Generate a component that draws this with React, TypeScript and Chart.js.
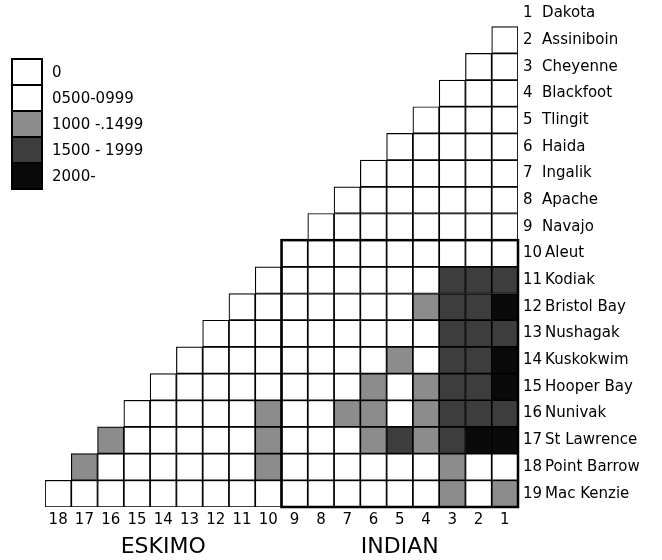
import React, { useEffect, useRef } from 'react';
import { Chart, registerables } from 'chart.js';

Chart.register(...registerables);

const FONT = '"DejaVu Sans", "Liberation Sans", sans-serif';

// Row (tribe / population) names, numbered 1..19 from the top
const rowNames = [
  'Dakota', 'Assiniboin', 'Cheyenne', 'Blackfoot', 'Tlingit', 'Haida', 'Ingalik',
  'Apache', 'Navajo', 'Aleut', 'Kodiak', 'Bristol Bay', 'Nushagak', 'Kuskokwim',
  'Hooper Bay', 'Nunivak', 'St Lawrence', 'Point Barrow', 'Mac Kenzie',
];

// Column labels, left to right
const columnLabels = ['18', '17', '16', '15', '14', '13', '12', '11', '10', '9', '8', '7', '6', '5', '4', '3', '2', '1'];
const groupLabels = ['ESKIMO', 'INDIAN'];

// Legend classes and their shades
const legendLabels = ['0', '0500-0999', '1000 -.1499', '1500 - 1999', '2000-'];
const levelColors = ['#ffffff', '#ffffff', '#8c8c8c', '#3d3d3d', '#0a0a0a'];

// Shading class of each cell of row r, listed for column 1, 2, ..., r-1
const row02 = [0];
const row03 = [0, 0];
const row04 = [0, 0, 0];
const row05 = [0, 0, 0, 0];
const row06 = [0, 0, 0, 0, 0];
const row07 = [0, 0, 0, 0, 0, 0];
const row08 = [0, 0, 0, 0, 0, 0, 0];
const row09 = [0, 0, 0, 0, 0, 0, 0, 0];
const row10 = [0, 0, 0, 0, 0, 0, 0, 0, 0];
const row11 = [3, 3, 3, 0, 0, 0, 0, 0, 0, 0];
const row12 = [4, 3, 3, 2, 0, 0, 0, 0, 0, 0, 0];
const row13 = [3, 3, 3, 0, 0, 0, 0, 0, 0, 0, 0, 0];
const row14 = [4, 3, 3, 0, 2, 0, 0, 0, 0, 0, 0, 0, 0];
const row15 = [4, 3, 3, 2, 0, 2, 0, 0, 0, 0, 0, 0, 0, 0];
const row16 = [3, 3, 3, 2, 0, 2, 2, 0, 0, 2, 0, 0, 0, 0, 0];
const row17 = [4, 4, 3, 2, 3, 2, 0, 0, 0, 2, 0, 0, 0, 0, 0, 2];
const row18 = [0, 0, 2, 0, 0, 0, 0, 0, 0, 2, 0, 0, 0, 0, 0, 0, 2];
const row19 = [2, 0, 2, 0, 0, 0, 0, 0, 0, 0, 0, 0, 0, 0, 0, 0, 0, 0];

const rowLevels = [row02, row03, row04, row05, row06, row07, row08, row09, row10,
  row11, row12, row13, row14, row15, row16, row17, row18, row19];
const firstRowWithCells = 2;

// Framed block: rows 10..19, columns 9..1
const blockRows = [10, 19];
const blockColumns = ['9', '1'];

export default function App() {
  const ref = useRef<HTMLCanvasElement | null>(null);

  useEffect(() => {
    if (!ref.current) return;

    const datasets = rowLevels.map((levels, i) => {
      const r = i + firstRowWithCells;
      return {
        label: String(r),
        data: columnLabels.map((lbl) => {
          const c = Number(lbl);
          return c < r ? [r - 0.5, r + 0.5] : null;
        }),
        backgroundColor: columnLabels.map((lbl) => {
          const c = Number(lbl);
          return c < r ? levelColors[levels[c - 1]] : 'rgba(0,0,0,0)';
        }),
        borderColor: '#000000',
        borderWidth: 1.2,
        borderSkipped: false,
        barPercentage: 1,
        categoryPercentage: 1,
        grouped: false,
      };
    });

    const framePlugin = {
      id: 'frameAndLegend',
      afterDatasetsDraw(chart: any) {
        const ctx = chart.ctx;
        const xs = chart.scales.x;
        const ys = chart.scales.y;
        const i0 = columnLabels.indexOf(blockColumns[0]);
        const i1 = columnLabels.indexOf(blockColumns[1]);
        const step = xs.getPixelForValue(1) - xs.getPixelForValue(0);
        const left = xs.getPixelForValue(i0) - step / 2;
        const right = xs.getPixelForValue(i1) + step / 2;
        const top = ys.getPixelForValue(blockRows[0] - 0.5);
        const bottom = ys.getPixelForValue(blockRows[1] + 0.5);
        ctx.save();
        ctx.strokeStyle = '#000';
        ctx.lineWidth = 2.5;
        ctx.strokeRect(left, top, right - left, bottom - top);
        ctx.restore();
      },
      afterDraw(chart: any) {
        const ctx = chart.ctx;
        ctx.save();
        const bx = 12, by = 59, bw = 30, bh = 26;
        legendLabels.forEach((lbl, i) => {
          ctx.fillStyle = levelColors[i];
          ctx.fillRect(bx, by + i * bh, bw, bh);
          ctx.strokeStyle = '#000';
          ctx.lineWidth = 1;
          ctx.strokeRect(bx + 0.5, by + i * bh + 0.5, bw - 1, bh - 1);
          ctx.fillStyle = '#000';
          ctx.font = `15px ${FONT}`;
          ctx.textBaseline = 'middle';
          ctx.textAlign = 'left';
          ctx.fillText(lbl, 52, by + i * bh + bh / 2 + 1);
        });
        ctx.lineWidth = 2;
        ctx.strokeRect(bx, by, bw, bh * legendLabels.length);
        ctx.restore();
      },
    };

    const chart = new Chart(ref.current, {
      type: 'bar',
      data: { labels: columnLabels, datasets: datasets as any },
      options: {
        responsive: false,
        animation: false,
        layout: { padding: { left: 45, top: 0, right: 0, bottom: 0 } },
        plugins: { legend: { display: false }, tooltip: { enabled: false } },
        scales: {
          x: {
            type: 'category',
            position: 'bottom',
            offset: true,
            grid: { display: false, drawTicks: false },
            border: { display: false },
            ticks: { color: '#000', font: { family: FONT, size: 15 }, padding: 4, autoSkip: false, maxRotation: 0 },
            afterFit: (s: any) => { s.height = 27; s.paddingLeft = 0; s.paddingRight = 0; },
          },
          group: {
            type: 'category',
            axis: 'x',
            labels: groupLabels,
            position: 'bottom',
            offset: true,
            grid: { display: false, drawTicks: false },
            border: { display: false },
            ticks: { color: '#000', font: { family: FONT, size: 22 }, padding: 0, autoSkip: false, maxRotation: 0 },
            afterFit: (s: any) => { s.height = 26; s.paddingLeft = 0; s.paddingRight = 0; },
          },
          y: {
            type: 'linear',
            position: 'right',
            reverse: true,
            min: 0.5,
            max: 19.5,
            grid: { display: false, drawTicks: false },
            border: { display: false },
            afterBuildTicks: (s: any) => { s.ticks = rowNames.map((_, i) => ({ value: i + 1 })); },
            afterFit: (s: any) => { s.width = 144; s.paddingTop = 0; s.paddingBottom = 0; },
            ticks: {
              color: '#000',
              font: { family: FONT, size: 15 },
              padding: 5,
              autoSkip: false,
              callback: (v: any) => {
                const n = Math.round(Number(v));
                const name = rowNames[n - 1];
                if (!name) return '';
                return n < 10 ? `${n}  ${name}` : `${n}\u2009${name}`;
              },
            },
          },
        } as any,
      },
      plugins: [framePlugin],
    });

    return () => chart.destroy();
  }, []);

  return (
    <div style={{ position: 'absolute', left: 0, top: 0, width: 662, height: 560, background: '#fff' }}>
      <canvas ref={ref} width={662} height={560} style={{ display: 'block', width: 662, height: 560 }} />
    </div>
  );
}
